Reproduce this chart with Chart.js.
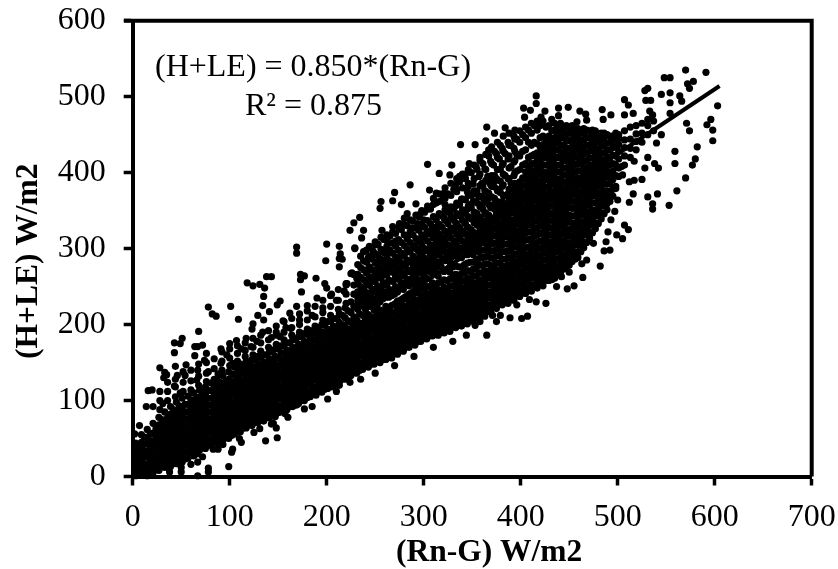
<!DOCTYPE html>
<html><head><meta charset="utf-8">
<script src="https://cdn.jsdelivr.net/npm/chart.js@4"></script>
<style>html,body{margin:0;padding:0;background:#fff}#w{position:relative;width:838px;height:569px}</style>
</head><body><div id="w"><canvas id="c" width="838" height="569"></canvas></div>
<script>
const xTitle = "(Rn-G) W/m2";
const yTitle = "(H+LE) W/m2";
const equationText = "(H+LE) = 0.850*(Rn-G)";
const r2Text = "R² = 0.875";
const fitLine = [[0,0],[605,514]];
const lowerLeftEdge = [[201,102],[177,89],[189,107],[157,83],[148,64],[149,51],[137,47],[103,36],[102,32],[83,36],[93,42],[99,13],[78,11],[78,6],[67,1],[50,12],[50,6],[67,19],[67,30],[112,45],[131,63],[143,69],[169,94],[213,120],[224,124],[205,118],[38,6],[60,16],[72,26],[88,36],[110,50],[125,58],[145,70],[160,78],[185,92],[210,112],[235,128],[250,136],[270,146],[290,158],[310,170],[330,178]];
const upperLeftEdge = [[169,302],[169,294],[200,306],[213,303],[229,300],[214,293],[216,286],[199,284],[213,276],[173,266],[177,264],[173,259],[189,261],[226,268],[231,261],[198,254],[200,248],[221,254],[174,243],[138,263],[143,263],[118,255],[124,251],[131,253],[136,248],[135,237],[134,225],[152,231],[149,226],[169,224],[78,223],[82,214],[86,211],[101,224],[109,207],[129,212],[124,201],[123,194],[141,217],[135,206],[134,190],[68,191],[51,182],[43,176],[49,175],[43,163],[64,171],[72,173],[67,171],[91,168],[64,159],[74,153],[28,143],[33,137],[35,134],[32,130],[44,145],[55,147],[46,133],[54,133],[43,119],[49,110],[16,113],[20,114],[7,67],[2,56],[14,92],[21,92],[31,96],[100,175],[107,179],[117,182],[122,171],[97,160],[91,149],[103,149],[88,135],[78,138],[67,140],[66,127],[112,168],[155,205],[162,215],[180,225],[190,235],[148,190],[158,196],[205,240],[185,212],[196,222],[210,232],[218,244],[163,195],[172,206],[143,183],[128,178],[152,184]];
const upperRightEdge = [[416,501],[416,491],[403,485],[410,482],[404,473],[425,481],[421,473],[439,485],[449,486],[439,475],[432,470],[444,460],[461,481],[467,477],[468,469],[458,467],[484,483],[507,496],[511,489],[493,476],[485,470],[507,476],[516,478],[531,511],[528,508],[529,495],[534,495],[545,503],[554,505],[548,525],[554,525],[570,535],[591,532],[578,520],[572,517],[574,511],[564,501],[566,494],[554,492],[533,481],[536,476],[554,478],[603,488],[571,465],[596,470],[592,463],[598,456],[598,442],[574,455],[582,434],[559,428],[559,412],[580,418],[577,410],[570,393],[561,376],[541,372],[553,357],[531,368],[536,359],[536,352],[512,361],[516,372],[525,391],[517,390],[512,388],[517,415],[528,406],[531,420],[538,412],[542,406],[545,450],[540,439]];
const lowerRightEdge = [[505,397],[504,408],[498,379],[493,375],[500,364],[497,349],[493,338],[507,331],[511,325],[505,313],[499,318],[490,322],[488,309],[492,298],[486,297],[475,307],[468,285],[463,280],[482,277],[464,262],[455,251],[448,247],[450,269],[442,263],[437,250],[432,259],[426,228],[416,230],[409,233],[396,226],[407,211],[401,208],[389,209],[379,212],[371,212],[375,204],[378,230],[373,232],[365,186],[358,204],[353,199],[344,186]];
const midUpperEdge = [[304,411],[329,410],[347,412],[354,408],[338,437],[353,437],[364,442],[365,460],[373,452],[384,459],[367,430],[337,395],[316,399],[327,397],[286,384],[270,374],[268,363],[277,358],[256,362],[255,353],[292,359],[283,346],[234,341],[228,334],[224,324],[238,324],[257,324],[236,314],[252,305],[263,308],[229,301],[275,333],[268,329],[294,333],[306,377],[313,373],[334,377],[346,382],[321,373],[225,267],[220,254],[213,287],[243,288],[248,296],[262,296],[271,310],[285,318],[296,345],[304,352],[311,360],[322,358],[333,384],[343,398],[358,420],[280,340],[242,272],[253,283],[288,327],[300,338]];
const coreLow = [
[3,1,10,17,27,34,44],[9,4,11,21,28,38,45,55],[15,1,9,16,26,33,43,51,62],[21,5,12,22,29,39,47,57,70],[27,8,17,25,34,42,51,59,68,78],[33,12,20,29,37,46,54,63,72,85],[39,13,21,30,38,47,55,64,73,82,92],[45,17,25,34,42,51,60,68,77,86,98],[51,19,27,36,44,53,62,70,79,88,103],[57,24,32,41,50,58,67,76,85,95,106],[63,27,35,44,52,61,70,78,87,98,110],[69,35,43,52,61,69,78,87,96,105,114],[75,37,45,54,62,71,80,88,97,108,118],[81,42,50,59,67,76,85,94,103,113,123],[87,44,52,61,69,78,87,95,104,116,128],[93,48,56,65,73,82,90,99,108,120,133],[99,50,58,67,75,84,93,101,110,119,128,138],[105,56,64,73,81,90,99,108,116,125,134,144],[111,59,67,76,84,93,102,110,119,128,138,148],[117,64,72,81,89,98,107,115,124,133,142,152],
[123,67,75,84,92,101,110,118,127,136,145,154],[129,71,79,88,96,105,114,122,131,140,149,158],[135,73,81,90,98,107,116,124,133,142,151,160],[141,77,85,94,102,111,120,128,137,146,155,164],[147,79,87,96,104,113,122,130,139,148,158,168],[153,85,93,102,110,119,128,136,145,154,163,172],[159,88,96,105,113,122,131,139,148,157,166,176],[165,92,100,109,117,126,135,143,152,161,170,180],[171,96,104,113,121,130,139,147,156,165,174,184],[177,100,108,117,125,134,143,151,160,169,178,188],[183,105,113,122,130,139,148,156,165,174,183,192],[189,110,118,127,135,144,153,161,170,179,188,196],[195,111,119,128,136,145,154,162,171,180,190,200],[201,116,124,133,141,150,159,167,176,185,194,204],[207,119,127,136,144,153,162,170,179,188,198,208],[213,124,132,141,149,158,167,175,184,193,203,214],[219,128,136,145,153,162,171,179,188,197,209,222],[225,133,141,150,158,167,176,184,193,203,216,230],[231,136,144,153,161,170,179,187,196,206,222,238],[237,141,149,158,166,175,184,192,201,212,228,245]];
const coreMid = [
[243,144,152,161,169,178,187,195,204,213,224,238,252],[249,148,156,165,173,182,191,199,208,219,232,246,260],[255,150,158,167,175,184,193,201,210,219,230,244,266],[261,154,162,171,179,188,197,205,214,224,236,252,272],[267,156,164,173,181,190,199,207,216,225,238,257,278],[273,161,169,178,186,195,204,212,221,231,243,260,284],[279,165,173,182,190,199,208,216,225,234,246,264,290],[285,170,178,187,195,204,213,221,230,240,251,270,296],[291,173,181,190,198,207,216,224,233,242,252,266,284,304],[297,178,186,195,203,212,221,229,238,248,259,274,291,312],[303,181,189,198,206,215,224,232,241,250,261,277,298,320],[309,185,193,202,210,219,228,236,245,255,267,283,304,326],[315,186,194,203,211,220,229,237,246,255,264,278,296,313,332],[321,189,197,206,214,223,232,240,249,259,270,286,304,340],[327,191,199,208,216,225,234,242,251,260,269,282,298,322,348],[333,196,204,213,221,230,239,247,256,266,277,290,310,334,356],[339,198,206,215,223,232,241,249,258,267,276,288,301,322,344,365],[345,201,209,218,226,235,244,252,261,271,281,292,306,328,352,375],[351,204,212,221,229,238,247,255,264,273,282,292,303,316,340,362,385],[357,208,216,225,233,242,251,259,268,278,287,296,306,320,338,368,395]];
const coreHigh = [
[363,211,219,228,236,245,254,262,271,280,289,298,307,316,328,346,376,405],[369,218,226,235,243,252,261,269,278,288,297,306,315,324,334,354,384,415],[375,221,229,238,246,255,264,272,281,290,299,308,317,326,335,346,362,392,425],[381,226,234,243,251,260,269,277,286,296,305,314,323,332,341,350,362,382,410,432],[387,228,236,245,253,262,271,279,288,297,306,315,324,333,342,351,360,372,392,418,440],[393,232,240,249,257,266,275,283,292,302,311,320,329,338,347,356,365,378,396,414,432,448],[399,237,245,254,262,271,280,288,297,306,315,324,333,342,351,360,369,378,388,404,422,440,455],[405,241,249,258,266,275,284,292,301,311,320,329,338,347,356,365,374,383,392,401,412,430,446,460],[411,244,252,261,269,278,287,295,304,313,322,331,340,349,358,367,376,385,394,403,412,422,436,452,465],[417,248,256,265,273,282,291,299,308,318,327,336,345,354,363,372,381,390,399,408,417,426,438,456,468],[423,251,259,268,276,285,294,302,311,320,329,338,347,356,365,374,383,392,401,410,419,428,437,448,468],[429,258,266,275,283,292,301,309,318,328,337,346,355,364,373,382,391,400,409,418,427,436,448,462],[435,261,269,278,286,295,304,312,321,330,339,348,357,366,375,384,393,402,411,420,429,438,446,456,465],[441,268,276,285,293,302,311,319,328,338,347,356,365,374,383,392,401,410,419,428,437,446,454,465],[447,274,282,291,299,308,317,325,334,343,352,361,370,379,388,397,406,415,424,433,442,450,462],[453,283,291,300,308,317,326,334,343,353,362,371,380,389,398,407,416,425,434,443,452,462],[459,288,296,305,313,322,331,339,348,357,366,375,384,393,402,411,420,429,438,447,458],[465,301,309,318,326,335,344,352,361,371,380,389,398,407,416,425,434,443,452,458],[471,314,322,331,339,348,357,365,374,383,392,401,410,419,428,437,446,455],[477,326,334,343,351,360,369,377,386,396,405,414,423,432,441,449,455],[483,339,347,356,364,373,382,390,399,408,417,426,435,444,452],[489,351,359,368,376,385,394,402,411,421,430,439,450],[495,369,380,391,402,412,423,433,442,448],[501,395,406,418,428,437,445,450],[507,410,422,433,443,455],[513,420,432,444,460],[519,430,441,451,462],[525,440,452,465],[531,450,462,470],[537,455,468]];
const fillLow = [
[6,5,14,23,32,41],[12,7,16,25,34,43,52],[18,4,13,21,30,38,47,56],[24,9,18,26,35,44,53,63],[30,13,22,30,39,48,57,66,75],[36,16,25,33,42,51,60,69,78],[42,17,26,34,43,52,61,70,80,88],[48,21,30,39,47,56,65,74,83,93],[54,23,32,41,49,58,67,76,85,95],[60,28,37,46,55,63,72,81,90,101],[66,31,40,48,57,66,75,84,93,104],[72,39,48,57,66,74,83,92,101,111],[78,41,50,59,67,76,85,94,103,113],[84,46,55,64,72,81,90,99,109,120],[90,49,58,67,76,84,93,102,112,124],[96,53,62,71,80,88,97,106,115,126],[102,54,63,72,81,89,98,107,116,125,135],[108,60,69,78,87,96,104,113,122,132,142],[114,64,73,82,90,99,108,117,126,136,146],[120,68,77,86,95,103,112,121,130,139,150],
[126,71,80,89,98,107,116,124,133,143,154],[132,75,84,93,102,110,119,128,137,147,157],[138,78,87,96,105,113,122,131,140,150,160],[144,81,90,99,108,117,125,134,143,153,164],[150,84,93,102,111,120,128,137,146,156,168],[156,90,99,108,117,126,134,143,152,162,172],[162,92,101,110,119,128,136,145,154,164,176],[168,96,105,114,123,132,140,149,158,168,180],[174,100,109,118,127,136,144,153,162,172,184],[180,104,113,122,131,140,148,157,166,176,187],[186,109,118,127,136,145,153,162,171,180,190],[192,113,122,131,140,149,157,166,175,185,196],[198,115,124,133,142,151,159,168,177,187,199],[204,120,129,138,147,155,164,173,182,192,204],[210,124,133,142,151,159,168,177,186,196,208],[216,128,137,146,155,164,172,181,190,200,212],[222,132,141,150,159,168,176,185,194,205,218],[228,137,146,155,164,172,181,190,199,210,224],[234,140,149,158,167,175,184,193,202,214,230],[240,145,154,163,172,180,189,198,207,220,236]];
const fillMid = [
[246,148,157,165,174,183,192,201,210,224,240],[252,152,161,169,178,187,196,205,215,226,248],[258,154,163,171,180,189,198,207,217,234,254],[264,158,167,175,184,193,202,211,221,236,258],[270,162,171,180,188,197,206,215,226,240,268],[276,167,176,184,193,202,211,220,229,248,274],[282,170,179,187,196,205,214,223,234,256,280],[288,175,183,192,201,210,219,228,238,260],[294,178,187,196,205,213,222,231,242,258,278,298],[300,183,192,200,209,218,227,236,246,266,288],[306,185,194,203,212,220,229,239,250,270,296],[312,187,196,205,214,222,231,241,252,272,300,318],[318,190,199,207,216,225,234,244,256,276,306],[324,193,202,210,219,228,237,247,258,272,292,318],[330,197,206,214,223,232,241,251,262,276,302,340],[336,201,210,218,227,236,245,254,263,276,296,328],[342,204,213,221,230,239,248,258,268,279,298,336],[348,207,215,224,233,242,251,260,270,282,298,322,358],[354,210,219,227,236,245,254,264,274,285,298,312,346,372],[360,214,223,232,240,249,258,268,278,288,298,312,332,358,386]];
const fillHigh = [
[366,217,226,235,243,252,261,270,280,290,300,310,320,338,365,395],[372,224,233,242,251,259,268,277,287,297,307,317,327,340,358,388,410],[378,227,236,245,253,262,271,281,291,301,311,321,331,341,354,378,418],[384,232,241,250,258,267,276,286,296,306,316,326,336,346,356,370,396,425],[390,234,243,252,261,270,279,288,298,308,318,328,338,348,358,369,386,408,436],[396,238,247,256,265,274,283,293,303,313,323,333,343,353,363,373,385,402,424,444],[402,244,253,262,271,280,289,298,308,317,326,335,344,354,364,373,383,393,410,428,450],[408,248,257,265,274,283,292,302,312,322,332,342,352,361,370,380,390,398,408,420,440,456],[414,252,261,270,279,287,296,306,316,326,336,345,354,364,373,383,392,402,412,424,440,462],[420,255,264,272,281,290,300,310,320,330,339,349,358,368,378,388,398,406,416,424,434,446,462],[426,258,267,276,285,294,304,314,323,333,342,352,361,371,381,391,400,410,420,430,442,460],[432,262,271,280,289,299,309,318,327,337,346,356,365,375,385,395,405,414,424,434,443,455],[438,268,277,286,296,305,314,324,333,343,352,362,371,381,391,401,410,420,430,440,450,462],[444,273,282,291,301,310,320,330,339,349,358,368,377,387,397,406,416,426,436,446,456],[450,278,287,296,306,316,325,335,344,354,364,373,383,393,402,412,422,432,442,452,460],[456,286,295,305,314,324,333,343,353,362,372,382,391,401,411,421,431,441,450,458],[462,296,305,315,324,334,344,353,363,373,383,392,402,412,422,432,442,452],[468,308,318,328,337,347,357,367,377,386,396,406,416,426,436,446,456],[474,321,331,340,350,360,370,380,390,399,409,419,429,439,449,456],[480,333,343,352,362,372,382,392,402,412,422,431,441,450],[486,346,356,366,376,386,396,406,416,426,436,446,452],[492,362,374,386,398,410,420,430,440,448],[498,382,396,410,422,434,444,452]];
const midBand = [
[232,220,231,243,254,266,279],[238,224,236,247,259,272,284,296],[244,228,240,252,263,276,290,303],[250,232,244,256,268,281,293,309],[256,237,249,261,273,286,299,315],[262,240,252,265,277,289,303,318],[268,245,257,269,281,294,307,322],[274,248,260,273,286,298,312,328],[280,254,266,278,291,304,318,332],[286,258,271,283,296,308,322,338],[292,262,274,287,300,313,327,344],[298,268,280,293,305,318,332,350],[304,272,284,297,310,323,337,356],[310,276,289,301,314,328,342,358,366],[316,280,292,305,319,332,346,362,372],[322,284,296,310,323,337,351,366,380],[328,288,301,314,327,341,355,370,386],[334,293,305,319,332,346,360,375,392],[340,297,310,323,337,351,365,380,398],[346,301,314,328,342,356,370,386,404],[352,308,321,334,348,362,376,392,410],[358,314,327,341,355,369,383,398,416],[364,320,333,347,361,375,390,404,424],[370,326,340,354,368,382,396,412,434],[376,334,348,362,376,390,404,420,440],[382,342,356,370,384,398,412,428,448],[388,350,364,378,392,406,422,436,452],[394,358,372,386,400,416,428,444,456]];
const midBandGaps = [
[235,226,238,250,262,275,290],[241,230,242,255,268,282,298],[247,234,246,259,272,286,302],[253,238,250,263,276,291,306],[259,243,255,268,281,295,312],[265,246,258,271,284,298,316],[271,250,263,276,289,303,320],[277,255,268,281,294,308,325],[283,260,272,285,299,313,330],[289,264,277,290,303,318,336],[295,270,283,296,310,324,342],[301,274,287,300,314,328,348],[307,279,292,305,319,333,352],[313,283,296,310,324,338,360],[319,287,300,314,328,343,364],[325,291,305,319,333,348,372],[331,296,310,324,338,353,378],[337,300,314,328,343,358,388],[343,305,319,333,348,364,392],[349,311,325,339,354,370,400],[355,317,331,346,360,376,404],[361,323,337,352,367,382,412],[367,329,344,358,373,388,422],[373,337,352,366,381,396,428],[379,345,360,374,389,404,436]];
const lowBandTop = [
[28,88,100,112],[36,100,112,124],[44,105,118,128],[52,112,124,138],[60,114,126,140],[68,120,132,148],[76,125,136,150,162],[84,128,142,155],[92,140,152,164],[100,146,156,168],[108,152,162,172],[116,158,166,176],[124,160,170,182],[132,165,176,186],[140,170,180,192],[148,174,186,198],[156,180,190,204],[164,186,196,208],[172,190,200,214],[180,194,206,218],[188,198,210,224],[196,206,216,232],[204,212,224,238],[212,220,232,246],[220,228,240,252],[228,240,252,266]];
const pairs = r => r.slice(1).map(y => ({x:r[0], y}));
const toPoints = a => a.map(p => ({x:p[0], y:p[1]}));
const scatterPoints = [...toPoints(lowerLeftEdge), ...toPoints(upperLeftEdge), ...toPoints(upperRightEdge), ...toPoints(lowerRightEdge), ...toPoints(midUpperEdge), ...coreLow.flatMap(pairs), ...coreMid.flatMap(pairs), ...coreHigh.flatMap(pairs), ...fillLow.flatMap(pairs), ...fillMid.flatMap(pairs), ...fillHigh.flatMap(pairs), ...midBand.flatMap(pairs), ...midBandGaps.flatMap(pairs), ...lowBandTop.flatMap(pairs)];
const serif = "'Liberation Serif','Times New Roman',serif";
const textPlugin = { id:'frameText', afterDatasetsDraw(ch){
  const g=ch.ctx, a=ch.chartArea;
  g.save();
  g.strokeStyle='#000'; g.lineWidth=4;
  g.beginPath(); g.moveTo(124,a.top); g.lineTo(a.right,a.top); g.lineTo(a.right,a.bottom); g.stroke();
  g.fillStyle='#000'; g.textBaseline='alphabetic'; g.textAlign='left';
  g.font="32px "+serif;
  g.fillText(equationText,155,76);
  g.fillText(r2Text,245,115);
  g.font="bold 31.5px "+serif;
  g.fillText(xTitle,396,561);
  g.translate(37,359); g.rotate(-Math.PI/2);
  g.fillText(yTitle,0,0);
  g.restore();
}};
new Chart(document.getElementById('c'),{
  type:'scatter',
  data:{datasets:[
    {data:toPoints(fitLine),type:'line',borderColor:'#000',borderWidth:4,pointRadius:0,fill:false,tension:0,order:0},
    {data:scatterPoints,backgroundColor:'#000',borderColor:'#000',borderWidth:0,pointRadius:3.6,pointHoverRadius:3.6,clip:false,order:1}
  ]},
  options:{responsive:false,animation:false,
    layout:{padding:{left:0,right:26.3,top:20.7,bottom:0}},
    plugins:{legend:{display:false},tooltip:{enabled:false}},
    scales:{
      x:{type:'linear',min:0,max:700,
        afterFit(s){s.height=92.5;s.paddingLeft=0;s.paddingRight=0;},
        border:{color:'#000',width:4},
        grid:{drawOnChartArea:false,drawTicks:true,tickLength:9,tickWidth:3.5,tickColor:'#000'},
        ticks:{stepSize:100,color:'#000',padding:13,maxRotation:0,font:{family:serif,size:32}}},
      y:{type:'linear',min:0,max:600,
        afterFit(s){s.width=132.7;s.paddingTop=0;s.paddingBottom=0;},
        border:{color:'#000',width:4},
        grid:{drawOnChartArea:false,drawTicks:true,tickLength:9,tickWidth:3.5,tickColor:'#000'},
        ticks:{stepSize:100,color:'#000',padding:18,font:{family:serif,size:32}}}
    }
  },
  plugins:[textPlugin]
});
</script></body></html>
